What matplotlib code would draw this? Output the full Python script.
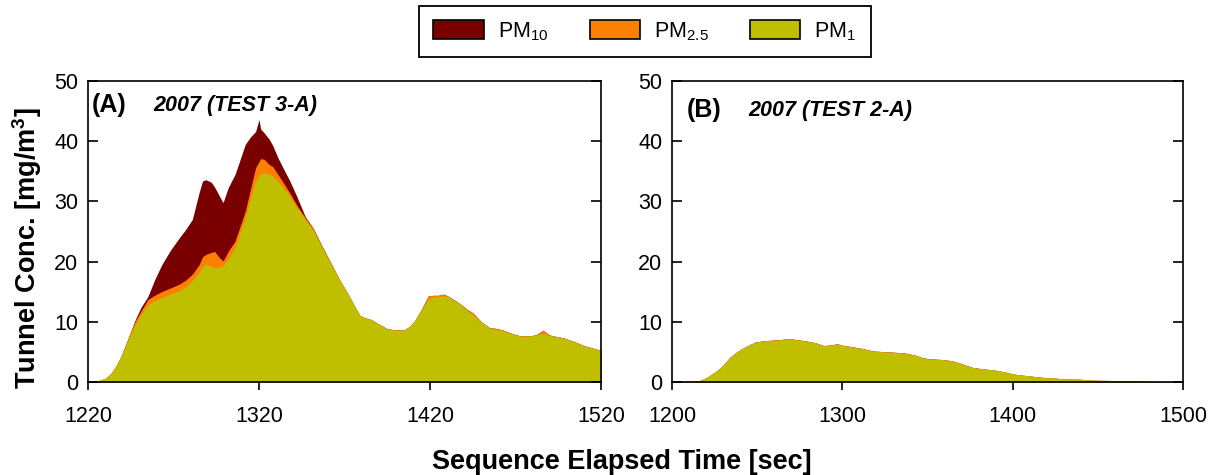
import matplotlib
matplotlib.use("Agg")
import matplotlib.pyplot as plt
from matplotlib.patches import Patch

plt.rcParams['font.family'] = ['Liberation Sans', 'DejaVu Sans']
plt.rcParams['mathtext.fontset'] = 'custom'
plt.rcParams['mathtext.rm'] = 'Liberation Sans'
plt.rcParams['mathtext.it'] = 'Liberation Sans:italic'
plt.rcParams['mathtext.bf'] = 'Liberation Sans:bold'

# ---------------- data: panel A (2007 TEST 3-A) ----------------
time_a = [1220, 1226, 1230, 1233, 1236, 1239, 1242, 1245, 1248, 1251,
          1255, 1259, 1263, 1268, 1273, 1277, 1281, 1285, 1287, 1289,
          1292, 1294, 1297, 1299, 1302, 1306, 1309, 1312, 1315, 1318,
          1320, 1321, 1323, 1326, 1328, 1331, 1334, 1338, 1342, 1347,
          1352, 1357, 1362, 1367, 1372, 1376, 1379, 1382, 1385, 1390,
          1395, 1400, 1405, 1408, 1411, 1415, 1419, 1422, 1425, 1428,
          1431, 1435, 1439, 1442, 1445, 1450, 1455, 1459, 1463, 1468,
          1473, 1478, 1482, 1484, 1486, 1490, 1494, 1498, 1504, 1510,
          1515, 1520]
pm1_a = [0.05, 0.2, 0.6, 1.3, 2.5, 4.0, 6.0, 8.0, 9.8, 11.2,
         12.8, 13.5, 14.0, 14.6, 15.1, 15.8, 16.8, 18.2, 19.2, 19.6,
         19.2, 19.0, 19.1, 19.3, 20.5, 22.3, 24.8, 27.3, 30.5, 33.4,
         34.2, 34.6, 34.8, 34.5, 34.2, 33.3, 32.3, 30.8, 29.0, 27.0,
         25.1, 22.3, 19.6, 17.0, 14.6, 12.5, 11.0, 10.6, 10.4, 9.6,
         8.8, 8.6, 8.6, 9.2, 10.1, 12.0, 13.8, 14.1, 14.2, 14.3,
         14.1, 13.4, 12.6, 11.8, 11.2, 9.9, 8.9, 8.7, 8.5, 8.0,
         7.6, 7.6, 7.8, 7.9, 8.0, 7.7, 7.5, 7.3, 6.7, 6.0,
         5.6, 5.2]
pm25_a = [0.05, 0.2, 0.6, 1.3, 2.5, 4.1, 6.2, 8.3, 10.3, 11.8,
          13.7, 14.4, 15.0, 15.6, 16.2, 16.9, 17.9, 19.5, 20.8, 21.2,
          21.5, 21.7, 20.6, 20.1, 21.7, 23.4, 25.9, 28.4, 32.0, 35.6,
          36.6, 37.1, 37.0, 36.1, 35.8, 34.5, 33.2, 31.4, 29.4, 27.3,
          25.3, 22.4, 19.8, 17.05, 14.65, 12.55, 11.05, 10.65, 10.45, 9.65,
          8.85, 8.65, 8.65, 9.25, 10.15, 12.1, 14.3, 14.4, 14.4, 14.6,
          14.2, 13.5, 12.7, 12.0, 11.5, 10.0, 9.0, 8.9, 8.6, 8.05,
          7.65, 7.65, 7.85, 8.2, 8.6, 7.8, 7.55, 7.35, 6.75, 6.05,
          5.65, 5.25]
pm10_a = [0.05, 0.2, 0.6, 1.3, 2.5, 4.1, 6.2, 8.4, 10.6, 12.4,
          14.2, 17.0, 19.4, 21.8, 23.8, 25.3, 27.0, 31.5, 33.4, 33.6,
          33.2, 32.4, 30.8, 29.8, 32.3, 34.5, 37.0, 39.5, 40.7, 41.6,
          43.6, 42.0, 41.4, 40.3, 39.3, 37.3, 35.6, 33.4, 30.9, 27.5,
          25.4, 22.5, 19.8, 17.05, 14.65, 12.55, 11.05, 10.65, 10.45, 9.65,
          8.85, 8.65, 8.65, 9.25, 10.15, 12.1, 14.3, 14.4, 14.4, 14.6,
          14.2, 13.5, 12.7, 12.0, 11.5, 10.0, 9.0, 8.9, 8.6, 8.05,
          7.65, 7.65, 7.85, 8.2, 8.6, 7.8, 7.55, 7.35, 6.75, 6.05,
          5.65, 5.25]

# ---------------- data: panel B (2007 TEST 2-A) ----------------
time_b = [1200, 1210, 1216, 1220, 1226, 1230, 1234, 1238, 1243, 1249,
          1254, 1259, 1264, 1268, 1273, 1278, 1284, 1289, 1293, 1297,
          1301, 1306, 1312, 1318, 1324, 1330, 1336, 1343, 1347, 1351,
          1358, 1364, 1370, 1376, 1382, 1389, 1395, 1401, 1410, 1420,
          1430, 1440, 1447, 1458, 1468, 1480, 1490, 1500]
pm1_b = [0.1, 0.1, 0.2, 0.7, 1.8, 2.8, 4.1, 5.0, 5.8, 6.6,
         6.8, 6.9, 7.0, 7.2, 7.0, 6.8, 6.5, 6.0, 6.1, 6.3,
         6.0, 5.8, 5.5, 5.1, 5.0, 4.9, 4.8, 4.4, 4.0, 3.8,
         3.7, 3.5, 3.0, 2.4, 2.2, 2.0, 1.7, 1.3, 1.0, 0.7,
         0.55, 0.45, 0.3, 0.25, 0.15, 0.1, 0.08, 0.05]
pm25_b = [0.1, 0.1, 0.2, 0.7, 1.8, 2.8, 4.1, 5.0, 5.85, 6.65,
          6.85, 6.95, 7.05, 7.25, 7.05, 6.85, 6.55, 6.05, 6.15, 6.35,
          6.05, 5.85, 5.55, 5.15, 5.05, 4.95, 4.85, 4.45, 4.05, 3.85,
          3.75, 3.55, 3.05, 2.45, 2.2, 2.0, 1.7, 1.3, 1.0, 0.7,
          0.55, 0.45, 0.3, 0.25, 0.15, 0.1, 0.08, 0.05]
pm10_b = pm25_b

panel_a_label = "(A)"
panel_a_title = "2007 (TEST 3-A)"
panel_b_label = "(B)"
panel_b_title = "2007 (TEST 2-A)"
xticks_a = [1220, 1320, 1420, 1520]
xticks_b = [1200, 1300, 1400, 1500]
yticks = [0, 10, 20, 30, 40, 50]

C_PM10 = '#7a0000'
C_PM25 = '#ff8000'
C_PM1 = '#bfbf00'

fig = plt.figure(figsize=(12.2, 4.75), dpi=100)
ax_a = fig.add_axes([88 / 1220, 1 - 382 / 475, 513 / 1220, 301 / 475])
ax_b = fig.add_axes([672 / 1220, 1 - 382 / 475, 511 / 1220, 301 / 475])


def draw(ax, t, p10, p25, p1, xt, lab, title, lx, tx, ty):
    ax.fill_between(t, 0, p10, color=C_PM10, lw=0)
    ax.fill_between(t, 0, p25, color=C_PM25, lw=0)
    ax.fill_between(t, 0, p1, color=C_PM1, lw=0)
    ax.set_xlim(xt[0], xt[-1])
    ax.set_ylim(0, 50)
    ax.set_xticks(xt)
    ax.set_yticks(yticks)
    ax.tick_params(axis='x', direction='out', length=6, width=1.2,
                   labelsize=15.5, pad=11)
    ax.tick_params(axis='y', direction='in', length=7, width=1.2,
                   labelsize=15.5, right=True, pad=7)
    for s in ax.spines.values():
        s.set_linewidth(1.2)
    ax.text(lx, ty, lab, transform=ax.transAxes, fontsize=18,
            fontweight='bold', va='center', ha='left')
    ax.text(tx, ty - 0.003, title, transform=ax.transAxes, fontsize=15.5,
            fontweight='bold', style='italic', va='center', ha='left')


draw(ax_a, time_a, pm10_a, pm25_a, pm1_a, xticks_a, panel_a_label,
     panel_a_title, 0.008, 0.127, 0.92)
draw(ax_b, time_b, pm10_b, pm25_b, pm1_b, xticks_b, panel_b_label,
     panel_b_title, 0.028, 0.149, 0.905)

fig.text(27 / 1220, 1 - 248 / 475, 'Tunnel Conc. [mg/m$^\\mathbf{3}$]',
         rotation=90, fontsize=19.5, fontweight='bold', va='center',
         ha='center')
fig.text(622 / 1220, 1 - 462 / 475, 'Sequence Elapsed Time [sec]',
         fontsize=19.5, fontweight='bold', va='center', ha='center')

handles = [Patch(facecolor=C_PM10, edgecolor='black', lw=1.2),
           Patch(facecolor=C_PM25, edgecolor='black', lw=1.2),
           Patch(facecolor=C_PM1, edgecolor='black', lw=1.2)]
labels = ['PM$_{10}$', 'PM$_{2.5}$', 'PM$_{1}$']
leg = fig.legend(handles, labels, ncol=3, loc='upper center',
                 bbox_to_anchor=(645 / 1220, 1 - 6 / 475), fontsize=15.5,
                 frameon=True, fancybox=False, edgecolor='black',
                 framealpha=1, handlelength=2.35, handleheight=1.0,
                 columnspacing=1.9, handletextpad=0.65, borderpad=0.65,
                 borderaxespad=0)
leg.get_frame().set_linewidth(1.3)

fig.savefig('out.png', dpi=100)
